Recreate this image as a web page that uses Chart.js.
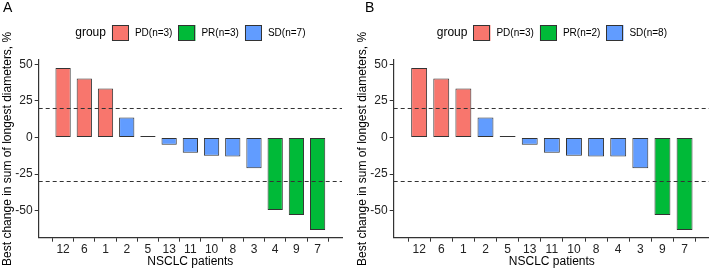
<!DOCTYPE html>
<html>
<head>
<meta charset="utf-8">
<script src="https://cdn.jsdelivr.net/npm/chart.js@4.4.1/dist/chart.umd.min.js"></script>
<style>
  html, body { margin:0; padding:0; background:#fff; overflow:hidden; }
  body { width:709px; height:271px; position:relative; }
  .panel { position:absolute; top:0; height:271px; }
  #wa { left:0; width:352px; }
  #wb { left:355px; width:356px; }
</style>
</head>
<body>
<div class="panel" id="wa"><canvas id="ca"></canvas></div>
<div class="panel" id="wb"><canvas id="cb"></canvas></div>
<script>
// ---- data ----
const categoriesA = ['12','6','1','2','5','13','11','10','8','3','4','9','7'];
const valuesA     = [47.6, 40.3, 33.5, 13.6, 0.3, -5.0, -10.5, -12.5, -13.0, -21.0, -49.5, -53.0, -63.3];
const groupsA     = ['PD','PD','PD','SD','SD','SD','SD','SD','SD','SD','PR','PR','PR'];
const legendA     = ['PD(n=3)','PR(n=3)','SD(n=7)'];

const categoriesB = ['12','6','1','2','5','13','11','10','8','4','3','9','7'];
const valuesB     = [47.6, 40.3, 33.5, 13.6, 0.3, -5.0, -10.5, -12.5, -13.0, -13.0, -21.0, -53.0, -63.3];
const groupsB     = ['PD','PD','PD','SD','SD','SD','SD','SD','SD','SD','SD','PR','PR'];
const legendB     = ['PD(n=3)','PR(n=2)','SD(n=8)'];

const groupKeys   = ['PD','PR','SD'];
const yTicks      = [-50, -25, 0, 25, 50];
const thresholds  = [20, -30];

const colorMap = { PD:'#F8766D', PR:'#00BA38', SD:'#619CFF' };
const FONT = '"Liberation Sans", Arial, sans-serif';
const AXIS = '#333333';

const overlay = {
  id:'overlay',
  afterDatasetsDraw(chart, args, opts) {
    const ctx = chart.ctx, x = chart.scales.x, y = chart.scales.y, ca = chart.chartArea;
    ctx.save();
    ctx.strokeStyle = '#333'; ctx.lineWidth = 1; ctx.setLineDash([4,3]);
    thresholds.forEach(t => {
      const py = Math.round(y.getPixelForValue(t)) + 0.5;
      ctx.beginPath(); ctx.moveTo(ca.left, py); ctx.lineTo(ca.right, py); ctx.stroke();
    });
    ctx.restore();
  },
  afterDraw(chart, args, opts) {
    const ctx = chart.ctx, ca = chart.chartArea;
    ctx.save();
    ctx.fillStyle = '#000'; ctx.font = '14px ' + FONT;
    ctx.textBaseline = 'top'; ctx.textAlign = 'left';
    ctx.fillText(opts.panel, opts.panelX, 1);
    const cy = 33, bw = 17, bh = 16, gap = 6;
    ctx.font = '12px ' + FONT;
    const titleW = ctx.measureText('group').width;
    ctx.font = '10px ' + FONT;
    const lw = opts.labels.map(l => ctx.measureText(l).width);
    let total = titleW + gap;
    lw.forEach((w,i) => { total += bw + gap + w + (i < lw.length-1 ? gap : 0); });
    let cx = (ca.left + ca.right)/2 - total/2;
    ctx.textBaseline = 'middle';
    ctx.fillStyle = '#000'; ctx.font = '12px ' + FONT;
    ctx.fillText('group', cx, cy); cx += titleW + gap;
    ctx.font = '10px ' + FONT;
    opts.labels.forEach((l,i) => {
      ctx.fillStyle = colorMap[groupKeys[i]];
      ctx.fillRect(cx, cy - bh/2, bw, bh);
      ctx.strokeStyle = '#333'; ctx.lineWidth = 1;
      ctx.strokeRect(Math.round(cx)+0.5, Math.round(cy - bh/2)+0.5, bw-1, bh-1);
      cx += bw + gap;
      ctx.fillStyle = '#000';
      ctx.fillText(l, cx, cy + 0.5);
      cx += lw[i] + gap;
    });
    ctx.restore();
  }
};

function makeChart(id, cats, vals, groups, labels, panel, panelX, padRight) {
  new Chart(document.getElementById(id), {
    type:'bar',
    data:{
      datasets:[{
        data: vals.map((v,i) => ({x:i, y:v})),
        backgroundColor: groups.map(g => colorMap[g]),
        borderColor:'#333', borderWidth:1, borderSkipped:false,
        minBarLength:1.5,
        barPercentage:0.72, categoryPercentage:1.0
      }]
    },
    options:{
      responsive:false, animation:false, maintainAspectRatio:false,
      devicePixelRatio:1,
      layout:{ padding:{ left:0, top:60, right:padRight, bottom:0 } },
      plugins:{ legend:{display:false}, tooltip:{enabled:false},
        overlay:{ labels, panel, panelX } },
      scales:{
        x:{
          type:'linear', min:-0.6, max:cats.length-1+0.6,
          afterBuildTicks: s => { s.ticks = cats.map((c,i)=>({value:i})); },
          afterFit: s => { s.height = 33.3; },
          ticks:{ autoSkip:false, maxRotation:0, color:'#222', padding:1,
            font:{family:FONT, size:12},
            callback: v => cats[v] },
          grid:{ drawOnChartArea:false, tickLength:4, color:AXIS, tickColor:AXIS },
          border:{ color:AXIS, width:1.2 },
          title:{ display:true, text:'NSCLC patients', color:'#000',
            font:{family:FONT, size:12}, padding:{top:0, bottom:2} }
        },
        y:{
          min:-68.5, max:53,
          afterBuildTicks: s => { s.ticks = yTicks.map(v=>({value:v})); },
          afterFit: s => { s.width = 38.7; },
          ticks:{ color:'#222', padding:2, font:{family:FONT, size:12} },
          grid:{ drawOnChartArea:false, tickLength:4, color:AXIS, tickColor:AXIS },
          border:{ color:AXIS, width:1.2 },
          title:{ display:true, text:'Best change in sum of longest diameters, %', color:'#000',
            font:{family:FONT, size:12}, padding:{top:0, bottom:0} }
        }
      }
    },
    plugins:[overlay]
  });
}

const ca = document.getElementById('ca'); ca.width = 352; ca.height = 271;
const cb = document.getElementById('cb'); cb.width = 356; cb.height = 271;
makeChart('ca', categoriesA, valuesA, groupsA, legendA, 'A', 3, 10);
makeChart('cb', categoriesB, valuesB, groupsB, legendB, 'B', 10, 1);
</script>
</body>
</html>
